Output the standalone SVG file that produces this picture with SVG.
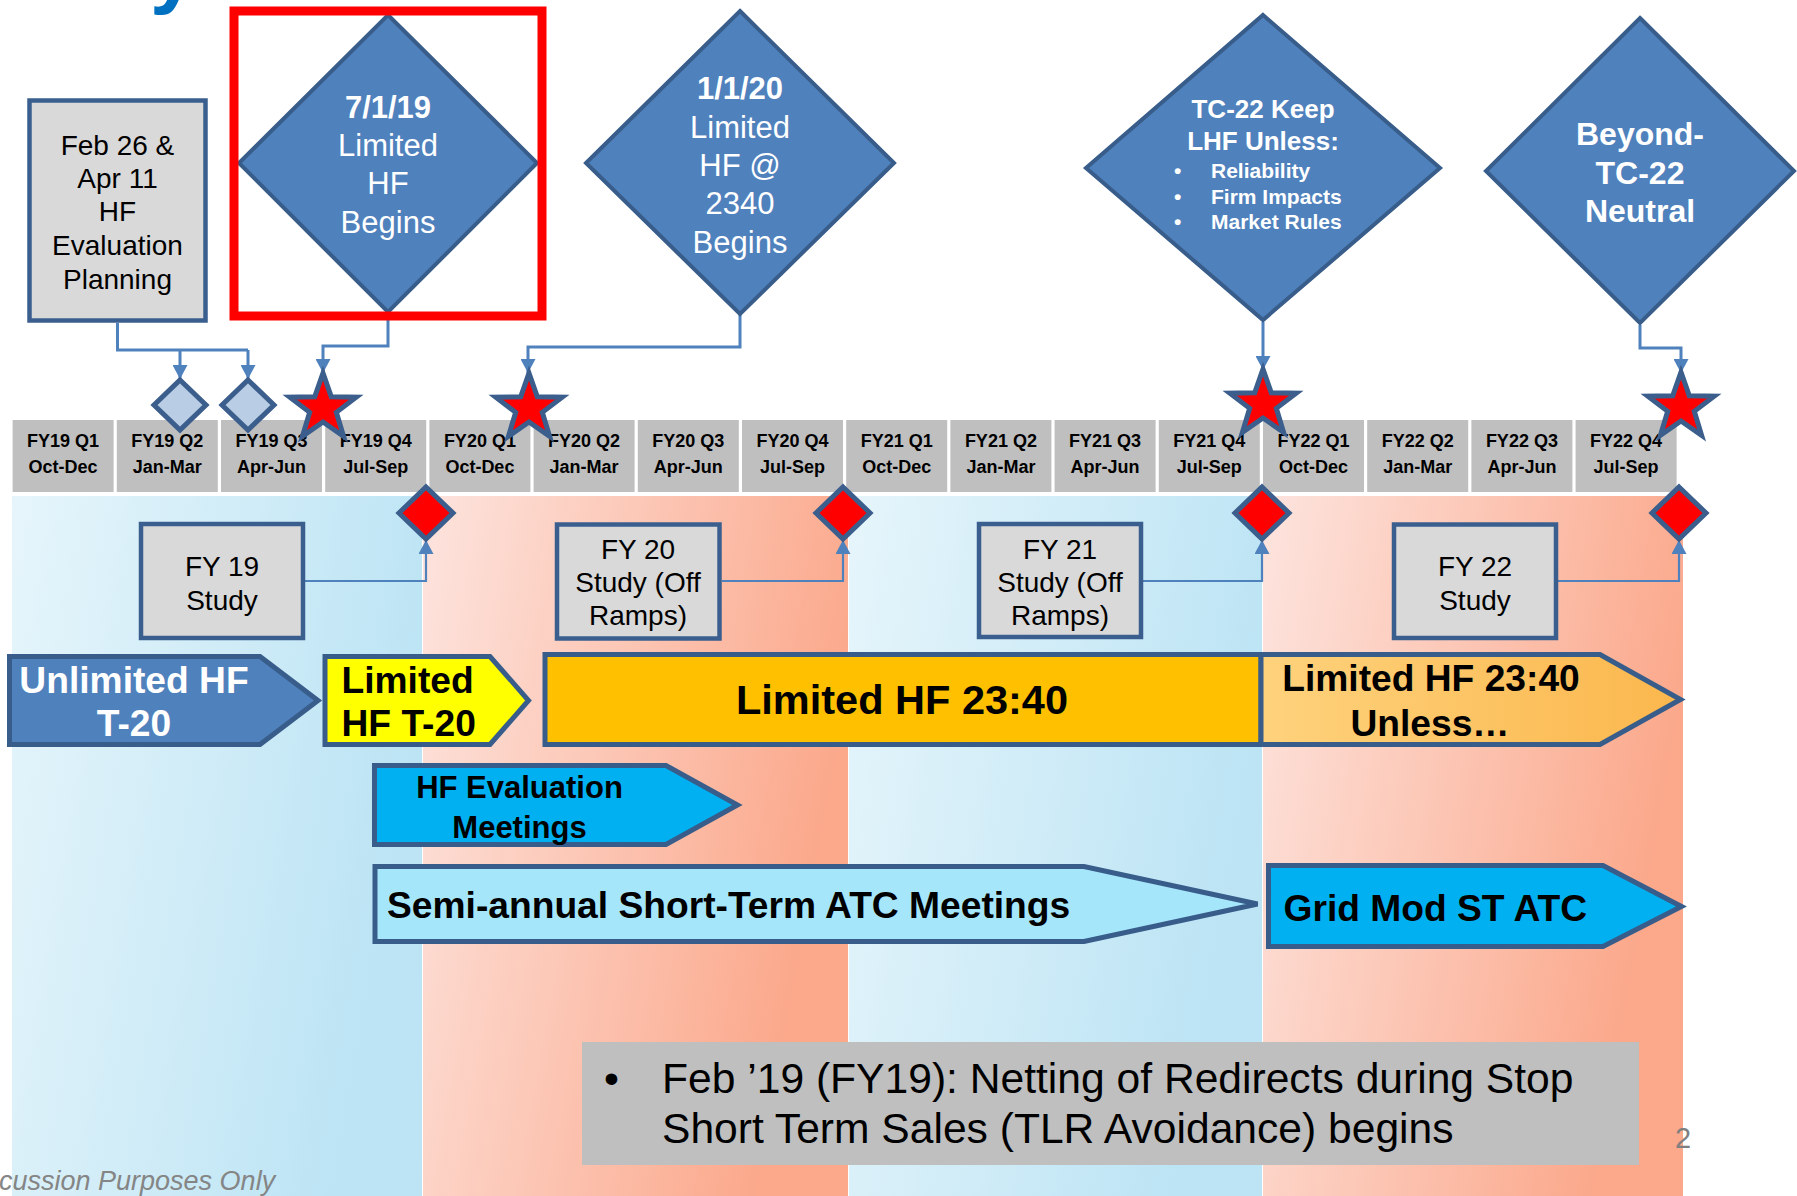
<svg xmlns="http://www.w3.org/2000/svg" width="1797" height="1196" viewBox="0 0 1797 1196">
<defs>
<style>
.hdr{fill:#bfbfbf}
.ht{font-family:"Liberation Sans",Arial,sans-serif;font-weight:bold;font-size:18px;text-anchor:middle;fill:#000}
.box{fill:#d9d9d9;stroke:#3a5f8e;stroke-width:4.5}
.bt{font-family:"Liberation Sans",Arial,sans-serif;font-size:28px;text-anchor:middle;fill:#000}
.dia{fill:#4f81bd;stroke:#385d8a;stroke-width:4}
.dt{font-family:"Liberation Sans",Arial,sans-serif;font-size:31px;text-anchor:middle;fill:#fff}
.b{font-weight:bold}
.conn{fill:none;stroke:#4f81bd;stroke-width:3}
.conn2{fill:none;stroke:#4f81bd;stroke-width:2.2}
.star{fill:#ff0000;stroke:#3b5e8c;stroke-width:5;stroke-linejoin:miter}
.rd{fill:#ff0000;stroke:#3b5e8c;stroke-width:5}
.sd{fill:#b9cde5;stroke:#3b5e8c;stroke-width:5}
.pent{stroke:#385d8a;stroke-width:5;stroke-linejoin:miter}
.at{font-family:"Liberation Sans",Arial,sans-serif;font-weight:bold;font-size:37.2px;fill:#000}
</style>
<linearGradient id="gBlue" x1="0" y1="0" x2="1" y2="0.3">
<stop offset="0" stop-color="#e6f5fb"/>
<stop offset="1" stop-color="#bce4f4"/>
</linearGradient>
<linearGradient id="gPink" x1="0" y1="0" x2="1" y2="0.3">
<stop offset="0" stop-color="#fde4de"/>
<stop offset="1" stop-color="#fba88b"/>
</linearGradient>
<linearGradient id="gUnless" x1="0" y1="0" x2="1" y2="0">
<stop offset="0" stop-color="#fed27c"/>
<stop offset="1" stop-color="#fbb74d"/>
</linearGradient>
<marker id="ah" markerUnits="userSpaceOnUse" markerWidth="15" markerHeight="15" refX="14" refY="7.5" orient="auto">
<path d="M0,0 L14,7.5 L0,15 z" fill="#4f81bd"/>
</marker>
<path id="starShape" d="M0,-35 L8.23,-11.33 L33.29,-10.82 L13.31,4.33 L20.57,28.32 L0,14 L-20.57,28.32 L-13.31,4.33 L-33.29,-10.82 L-8.23,-11.33 Z"/>
</defs>

<rect width="1797" height="1196" fill="#fff"/>

<g id="title-fragment">
<text x="150" y="-2" font-family="Liberation Sans,Arial,sans-serif" font-weight="bold" font-size="84" fill="#0070c0">y</text>
</g>

<g id="bands">
<rect x="12" y="496" width="410" height="700" fill="url(#gBlue)"/>
<rect x="423" y="496" width="425" height="700" fill="url(#gPink)"/>
<rect x="849" y="496" width="413" height="700" fill="url(#gBlue)"/>
<rect x="1263" y="496" width="420" height="700" fill="url(#gPink)"/>
</g>

<g id="quarters">
<rect class="hdr" x="12.6" y="420" width="101" height="72"/>
<rect class="hdr" x="116.8" y="420" width="101" height="72"/>
<rect class="hdr" x="221.0" y="420" width="101" height="72"/>
<rect class="hdr" x="325.2" y="420" width="101" height="72"/>
<rect class="hdr" x="429.4" y="420" width="101" height="72"/>
<rect class="hdr" x="533.6" y="420" width="101" height="72"/>
<rect class="hdr" x="637.8" y="420" width="101" height="72"/>
<rect class="hdr" x="742.0" y="420" width="101" height="72"/>
<rect class="hdr" x="846.2" y="420" width="101" height="72"/>
<rect class="hdr" x="950.4" y="420" width="101" height="72"/>
<rect class="hdr" x="1054.6" y="420" width="101" height="72"/>
<rect class="hdr" x="1158.8" y="420" width="101" height="72"/>
<rect class="hdr" x="1263.0" y="420" width="101" height="72"/>
<rect class="hdr" x="1367.2" y="420" width="101" height="72"/>
<rect class="hdr" x="1471.4" y="420" width="101" height="72"/>
<rect class="hdr" x="1575.6" y="420" width="101" height="72"/>
<text class="ht" x="63.1" y="446.5">FY19 Q1</text><text class="ht" x="63.1" y="473">Oct-Dec</text>
<text class="ht" x="167.3" y="446.5">FY19 Q2</text><text class="ht" x="167.3" y="473">Jan-Mar</text>
<text class="ht" x="271.5" y="446.5">FY19 Q3</text><text class="ht" x="271.5" y="473">Apr-Jun</text>
<text class="ht" x="375.7" y="446.5">FY19 Q4</text><text class="ht" x="375.7" y="473">Jul-Sep</text>
<text class="ht" x="479.9" y="446.5">FY20 Q1</text><text class="ht" x="479.9" y="473">Oct-Dec</text>
<text class="ht" x="584.1" y="446.5">FY20 Q2</text><text class="ht" x="584.1" y="473">Jan-Mar</text>
<text class="ht" x="688.3" y="446.5">FY20 Q3</text><text class="ht" x="688.3" y="473">Apr-Jun</text>
<text class="ht" x="792.5" y="446.5">FY20 Q4</text><text class="ht" x="792.5" y="473">Jul-Sep</text>
<text class="ht" x="896.7" y="446.5">FY21 Q1</text><text class="ht" x="896.7" y="473">Oct-Dec</text>
<text class="ht" x="1000.9" y="446.5">FY21 Q2</text><text class="ht" x="1000.9" y="473">Jan-Mar</text>
<text class="ht" x="1105.1" y="446.5">FY21 Q3</text><text class="ht" x="1105.1" y="473">Apr-Jun</text>
<text class="ht" x="1209.3" y="446.5">FY21 Q4</text><text class="ht" x="1209.3" y="473">Jul-Sep</text>
<text class="ht" x="1313.5" y="446.5">FY22 Q1</text><text class="ht" x="1313.5" y="473">Oct-Dec</text>
<text class="ht" x="1417.7" y="446.5">FY22 Q2</text><text class="ht" x="1417.7" y="473">Jan-Mar</text>
<text class="ht" x="1521.9" y="446.5">FY22 Q3</text><text class="ht" x="1521.9" y="473">Apr-Jun</text>
<text class="ht" x="1626.1" y="446.5">FY22 Q4</text><text class="ht" x="1626.1" y="473">Jul-Sep</text>
</g>

<g id="connectors">
<path class="conn" d="M117.5,323 V350 H248"/>
<path class="conn" d="M180,350 V379" marker-end="url(#ah)"/>
<path class="conn" d="M248,350 V379" marker-end="url(#ah)"/>
<path class="conn" d="M388,314 V346 H323 V373" marker-end="url(#ah)"/>
<path class="conn" d="M740,315 V347 H528 V373" marker-end="url(#ah)"/>
<path class="conn" d="M1263,322 V370" marker-end="url(#ah)"/>
<path class="conn" d="M1640,325 V348 H1681 V373" marker-end="url(#ah)"/>
<path class="conn2" d="M305,581 H426 V540" marker-end="url(#ah)"/>
<path class="conn2" d="M722,581 H843 V540" marker-end="url(#ah)"/>
<path class="conn2" d="M1143,581 H1262 V540" marker-end="url(#ah)"/>
<path class="conn2" d="M1558,581 H1679 V540" marker-end="url(#ah)"/>
</g>

<g id="node-planning">
<rect class="box" x="29.5" y="100.5" width="176" height="220"/>
<text class="bt" x="117.5" y="154.5">Feb 26 &amp;</text>
<text class="bt" x="117.5" y="187.6">Apr 11</text>
<text class="bt" x="117.5" y="221">HF</text>
<text class="bt" x="117.5" y="255">Evaluation</text>
<text class="bt" x="117.5" y="288.5">Planning</text>
</g>

<g id="node-7-1-19">
<polygon class="dia" points="388,15 537,163 388,312 239,163"/>
<text class="dt b" x="388" y="118">7/1/19</text>
<text class="dt" x="388" y="156">Limited</text>
<text class="dt" x="388" y="194">HF</text>
<text class="dt" x="388" y="233">Begins</text>
<rect x="234" y="11" width="308" height="305" fill="none" stroke="#ff0000" stroke-width="9"/>
</g>

<g id="node-1-1-20">
<polygon class="dia" points="740,11 894,163 740,314 586,163"/>
<text class="dt b" x="740" y="99">1/1/20</text>
<text class="dt" x="740" y="138">Limited</text>
<text class="dt" x="740" y="176">HF @</text>
<text class="dt" x="740" y="214">2340</text>
<text class="dt" x="740" y="253">Begins</text>
</g>

<g id="node-tc22">
<polygon class="dia" points="1263,15 1440,168 1263,320 1086,168"/>
<text class="dt b" x="1263" y="118" style="font-size:26px">TC-22 Keep</text>
<text class="dt b" x="1263" y="150" style="font-size:26px">LHF Unless:</text>
<g font-family="Liberation Sans,Arial,sans-serif" font-weight="bold" font-size="21" fill="#fff">
<text x="1174" y="177.5">•</text><text x="1211" y="177.5">Reliability</text>
<text x="1174" y="203.5">•</text><text x="1211" y="203.5">Firm Impacts</text>
<text x="1174" y="228.5">•</text><text x="1211" y="228.5">Market Rules</text>
</g>
</g>

<g id="node-beyond">
<polygon class="dia" points="1640,18 1794,171 1640,323 1486,171"/>
<text class="dt b" x="1640" y="144.5" style="font-size:32px">Beyond-</text>
<text class="dt b" x="1640" y="183.5" style="font-size:32px">TC-22</text>
<text class="dt b" x="1640" y="221.5" style="font-size:32px">Neutral</text>
</g>

<g id="milestone-small-diamonds">
<polygon class="sd" points="180,380 206,405 180,430 154,405"/>
<polygon class="sd" points="248,380 274,405 248,430 222,405"/>
</g>

<g id="milestone-stars">
<use href="#starShape" class="star" x="323" y="408"/>
<use href="#starShape" class="star" x="529" y="408"/>
<use href="#starShape" class="star" x="1263" y="404"/>
<use href="#starShape" class="star" x="1681" y="407"/>
</g>

<g id="milestone-red-diamonds">
<polygon class="rd" points="426,487 453,513 426,539 399,513"/>
<polygon class="rd" points="843,487 870,513 843,539 816,513"/>
<polygon class="rd" points="1262,487 1289,513 1262,539 1235,513"/>
<polygon class="rd" points="1679,487 1706,513 1679,539 1652,513"/>
</g>

<g id="node-fy19-study">
<rect class="box" x="141" y="524" width="162" height="114"/>
<text class="bt" x="222" y="575.5">FY 19</text>
<text class="bt" x="222" y="610">Study</text>
</g>
<g id="node-fy20-study">
<rect class="box" x="557" y="524.5" width="162.5" height="114"/>
<text class="bt" x="638" y="559">FY 20</text>
<text class="bt" x="638" y="592">Study (Off</text>
<text class="bt" x="638" y="625">Ramps)</text>
</g>
<g id="node-fy21-study">
<rect class="box" x="979" y="524" width="162" height="113"/>
<text class="bt" x="1060" y="559">FY 21</text>
<text class="bt" x="1060" y="592">Study (Off</text>
<text class="bt" x="1060" y="625">Ramps)</text>
</g>
<g id="node-fy22-study">
<rect class="box" x="1394" y="524.5" width="162" height="113.5"/>
<text class="bt" x="1475" y="575.5">FY 22</text>
<text class="bt" x="1475" y="610">Study</text>
</g>

<g id="node-unlimited">
<polygon class="pent" fill="#4f81bd" points="9.5,656.5 260,656.5 318,700.5 260,744.5 9.5,744.5"/>
<text class="at" x="134" y="693" text-anchor="middle" style="fill:#fff">Unlimited HF</text>
<text class="at" x="134" y="736" text-anchor="middle" style="fill:#fff">T-20</text>
</g>

<g id="node-limited-t20">
<polygon class="pent" fill="#ffff00" points="325,656.5 490,656.5 528.5,700.5 490,744.5 325,744.5"/>
<text class="at" x="341.5" y="693">Limited</text>
<text class="at" x="341.5" y="736">HF T-20</text>
</g>

<g id="node-limited-2340">
<rect class="pent" fill="#ffc000" x="545" y="654.5" width="716" height="90"/>
<text class="at" x="902" y="714" text-anchor="middle" style="font-size:41.5px">Limited HF 23:40</text>
</g>

<g id="node-unless">
<polygon class="pent" fill="url(#gUnless)" points="1261,654.5 1600,654.5 1680.5,699.5 1600,744.5 1261,744.5"/>
<text class="at" x="1431" y="691" text-anchor="middle">Limited HF 23:40</text>
<text class="at" x="1430" y="736" text-anchor="middle">Unless…</text>
</g>

<g id="node-hf-eval">
<polygon class="pent" fill="#00b0f0" points="374.5,765.5 666,765.5 737.5,805 666,844.5 374.5,844.5"/>
<text class="at" x="519.5" y="798" text-anchor="middle" style="font-size:31px">HF Evaluation</text>
<text class="at" x="519.5" y="838" text-anchor="middle" style="font-size:31px">Meetings</text>
</g>

<g id="node-semi-annual">
<polygon class="pent" fill="#a5e6fb" points="375,866.5 1084,866.5 1257.5,904 1084,941.5 375,941.5"/>
<text class="at" x="387" y="918">Semi-annual Short-Term ATC Meetings</text>
</g>

<g id="node-grid-mod">
<polygon class="pent" fill="#00b0f0" points="1268.5,865.5 1603,865.5 1681.5,906.5 1603,946.5 1268.5,946.5"/>
<text class="at" x="1283.5" y="921">Grid Mod ST ATC</text>
</g>

<g id="note">
<rect x="582" y="1042" width="1057" height="123" fill="#bfbfbf"/>
<g font-family="Liberation Sans,Arial,sans-serif" font-size="42.6" fill="#000">
<text x="604" y="1093">•</text>
<text x="662" y="1093">Feb ’19 (FY19): Netting of Redirects during Stop</text>
<text x="662" y="1143">Short Term Sales (TLR Avoidance) begins</text>
</g>
</g>

<g id="footer">
<text x="1683" y="1148" font-family="Liberation Sans,Arial,sans-serif" font-size="29" fill="#7f7f7f" text-anchor="middle">2</text>
<text x="-1" y="1190" font-family="Liberation Sans,Arial,sans-serif" font-style="italic" font-size="27" fill="#858585">cussion Purposes Only</text>
</g>
</svg>
